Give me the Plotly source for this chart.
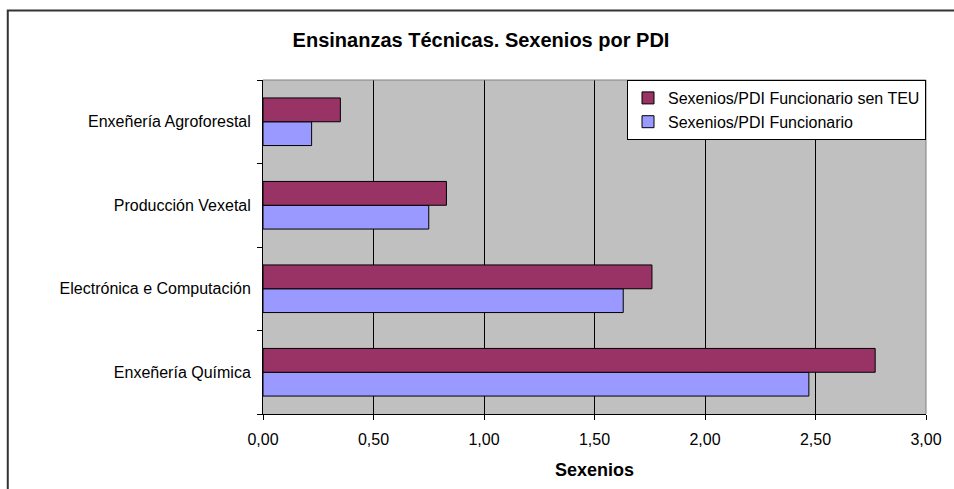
import plotly.graph_objects as go

categories = ["Enxeñería Química", "Electrónica e Computación", "Producción Vexetal", "Enxeñería Agroforestal"]
funcionario = [2.47, 1.63, 0.75, 0.22]
funcionario_sen_teu = [2.77, 1.76, 0.83, 0.35]
series_names = ["Sexenios/PDI Funcionario", "Sexenios/PDI Funcionario sen TEU"]
x_tick_values = [0, 0.5, 1.0, 1.5, 2.0, 2.5, 3.0]

W, H = 954, 489
L, R, T, B = 263, 26, 80, 73
pw, ph = W - L - R, H - T - B

def px_to_paper_x(px):
    return (px - L) / pw

def px_to_paper_y(py):
    return (H - B - py) / ph

font_family = "Liberation Sans, Arial, sans-serif"

fig = go.Figure()
fig.add_trace(go.Bar(
    y=categories, x=funcionario, orientation="h", name=series_names[0],
    marker=dict(color="#9999FF", line=dict(color="#000000", width=1)),
))
fig.add_trace(go.Bar(
    y=categories, x=funcionario_sen_teu, orientation="h", name=series_names[1],
    marker=dict(color="#993366", line=dict(color="#000000", width=1)),
))

fig.update_layout(
    width=W, height=H,
    margin=dict(l=L, r=R, t=T, b=B, pad=0),
    paper_bgcolor="white",
    plot_bgcolor="#C0C0C0",
    barmode="group",
    bargap=0.43,
    bargroupgap=0,
    separators=",.",
    font=dict(family=font_family, size=16, color="#000000"),
    title=dict(
        text="<b>Ensinanzas Técnicas. Sexenios por PDI</b>",
        x=481 / W, xref="container", xanchor="center",
        y=1 - 40 / H, yref="container", yanchor="middle",
        font=dict(size=20, family=font_family),
    ),
    xaxis=dict(
        range=[0, 3],
        tickvals=x_tick_values,
        tickformat=".2f",
        showgrid=True, gridcolor="#000000", gridwidth=1,
        showline=True, linecolor="#000000", linewidth=1,
        ticks="outside", ticklen=5, tickcolor="#000000",
        ticklabelstandoff=6,
        zeroline=False,
        title=dict(text="<b>Sexenios</b>", font=dict(size=18), standoff=16),
        fixedrange=True,
    ),
    yaxis=dict(
        categoryorder="array", categoryarray=categories,
        showline=True, linecolor="#000000", linewidth=1,
        ticks="outside", ticklen=5, tickcolor="#000000",
        tickson="boundaries",
        showgrid=False,
        ticklabelstandoff=8,
        fixedrange=True,
    ),
    legend=dict(
        x=1, xanchor="right", y=1, yanchor="top",
        bgcolor="white", bordercolor="#000000", borderwidth=1,
        traceorder="reversed",
        font=dict(size=16),
        itemwidth=30,
    ),
    showlegend=True,
    shapes=[
        dict(type="line", xref="paper", yref="paper", x0=0, x1=1, y0=1, y1=1,
             line=dict(color="#808080", width=1)),
        dict(type="line", xref="paper", yref="paper", x0=1, x1=1, y0=0, y1=1,
             line=dict(color="#808080", width=1)),
        dict(type="rect", xref="paper", yref="paper",
             x0=px_to_paper_x(7), x1=px_to_paper_x(970),
             y0=px_to_paper_y(500), y1=px_to_paper_y(10),
             line=dict(color="#333333", width=2)),
    ],
)

fig.write_html(
    "out.html",
    config={"displayModeBar": False},
    post_script="document.body.style.margin='0px';document.body.style.overflow='hidden';",
)
